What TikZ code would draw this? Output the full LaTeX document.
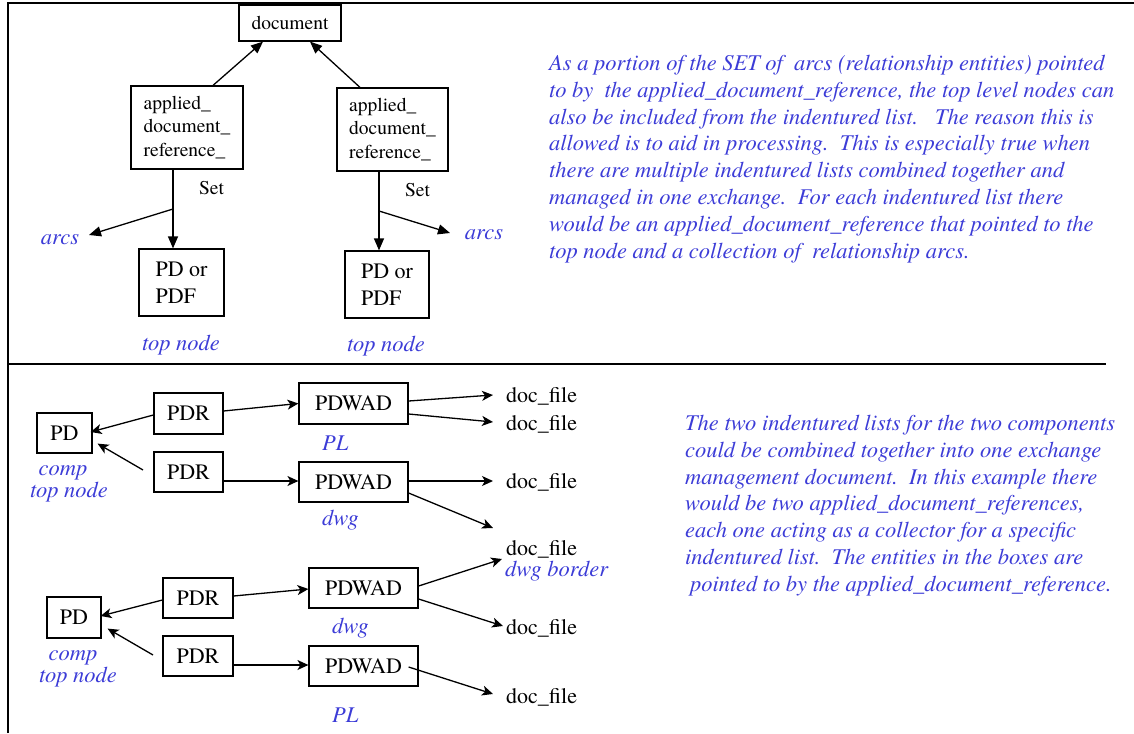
\documentclass[tikz,border=0pt]{standalone}
\usepackage{fontspec}
\setmainfont{TeX Gyre Termes}
\usetikzlibrary{arrows.meta}
\definecolor{noteblue}{RGB}{60,60,215}
\begin{document}
\begin{tikzpicture}[x=1pt,y=-1pt,
  box/.style={draw, line width=1.2pt, inner sep=0pt, align=left, font=\rmfamily\fontsize{22}{27}\selectfont},
  smallbox/.style={draw, line width=1.2pt, inner sep=0pt, align=left, font=\rmfamily\fontsize{19.5}{23.5}\selectfont},
  lbl/.style={inner sep=0pt, font=\rmfamily\fontsize{22}{27}\selectfont},
  smalllbl/.style={inner sep=0pt, font=\rmfamily\fontsize{19.5}{23.5}\selectfont},
  note/.style={inner sep=0pt, text=noteblue, font=\rmfamily\fontsize{22.5}{26.8}\selectfont\itshape},
  toparrow/.style={line width=1.3pt, -{Triangle[length=12pt,width=10pt]}},
  botarrow/.style={line width=1.3pt, -{Stealth[length=11pt,width=10pt,inset=3pt]}},
  frame/.style={line width=2pt}
]
\useasboundingbox (0,0) rectangle (1134,733);
\draw[frame] (8,733) -- (8,3) -- (1134,3);
\draw[line width=1.6pt] (8,364) -- (1106,364);

\node[smallbox, minimum width=102pt, minimum height=36pt] (doc) at (290,23) {document};
\node[smallbox, minimum width=112pt, minimum height=83pt] (adr1) at (187,127.5) {applied\_\\document\_\\reference\_};
\node[smallbox, minimum width=111pt, minimum height=83pt] (adr2) at (392.5,129.5) {applied\_\\document\_\\reference\_};
\node[box, minimum width=85pt, minimum height=67pt] (pd1) at (181.5,282.5) {PD or\\PDF};
\node[box, minimum width=84pt, minimum height=67pt] (pd2) at (387,284.5) {PD or\\PDF};
\node[smalllbl] (set1) at (211.5,188) {Set};
\node[smalllbl] (set2) at (417.5,190) {Set};
\node[note] (arcs1) at (60,240) {arcs};
\node[note] (arcs2) at (484,235) {arcs};
\node[note] (tn1) at (181,345) {top node};
\node[note] (tn2) at (386,346) {top node};

\draw[toparrow] ([xshift=26pt]adr1.north) -- ([xshift=-27pt]doc.south);
\draw[toparrow] ([xshift=-32.5pt]adr2.north) -- ([xshift=20pt]doc.south);
\draw[toparrow] ([xshift=-14pt]adr1.south) -- ([xshift=-8.5pt]pd1.north);
\draw[toparrow] ([xshift=-13.5pt]adr2.south) -- ([xshift=-8pt]pd2.north);
\coordinate (s1) at (173,209);
\coordinate (a1) at (89,235);
\coordinate (s2) at (379,211);
\coordinate (a2) at (450,233);
\draw[toparrow] (s1) -- (a1);
\draw[toparrow] (s2) -- (a2);

\node[note, anchor=north west, align=left] (p1) at (549,55) {As a portion of the SET of\ \ arcs (relationship entities) pointed\\
to by\ \ the applied\_document\_reference, the top level nodes can\\
also be included from the indentured list.\ \ \ The reason this is\\
allowed is to aid in processing.\ \ This is especially true when\\
there are multiple indentured lists combined together and\\
managed in one exchange.\ \ For each indentured list there\\
would be an applied\_document\_reference that pointed to the\\
top node and a collection of\ \ relationship arcs.};

\node[box, minimum width=55pt, minimum height=40pt] (PD1) at (64.5,433) {PD};
\node[box, minimum width=69pt, minimum height=41pt] (PDR1a) at (188.5,413.5) {PDR};
\node[box, minimum width=69pt, minimum height=40pt] (PDR1b) at (188.5,472) {PDR};
\node[box, minimum width=109pt, minimum height=41pt] (W1a) at (353.5,403.5) {PDWAD};
\node[box, minimum width=109pt, minimum height=40pt] (W1b) at (353.5,482) {PDWAD};

\node[box, minimum width=54pt, minimum height=41pt] (PD2) at (74,617.5) {PD};
\node[box, minimum width=70pt, minimum height=40pt] (PDR2a) at (198,598) {PDR};
\node[box, minimum width=70pt, minimum height=40pt] (PDR2b) at (198,656) {PDR};
\node[box, minimum width=109pt, minimum height=40pt] (W2a) at (363.5,588) {PDWAD};
\node[box, minimum width=109pt, minimum height=40pt] (W2b) at (363.5,666) {PDWAD};

\node[lbl, anchor=west] (df1) at (506,396) {doc\_file};
\node[lbl, anchor=west] (df2) at (506,424) {doc\_file};
\node[lbl, anchor=west] (df3) at (506,482) {doc\_file};
\node[lbl, anchor=west] (df4) at (506,549) {doc\_file};
\node[lbl, anchor=west] (df5) at (506,628) {doc\_file};
\node[lbl, anchor=west] (df6) at (506,697) {doc\_file};
\node[note, anchor=west] (bord) at (505,571) {dwg border};

\node[note, anchor=west] (PL1) at (322,443) {PL};
\node[note, anchor=west] (dwg1) at (322,520) {dwg};
\node[note, anchor=west] (dwg2) at (332,628) {dwg};
\node[note, anchor=west] (PL2) at (332,715) {PL};
\node[note] (comp1) at (63,473) {comp};
\node[note] (tnode1) at (69,492) {top node};
\node[note] (comp2) at (73,658) {comp};
\node[note] (tnode2) at (78,677) {top node};

\coordinate (c1) at (143,470);
\coordinate (c2) at (153,655);
\coordinate (e1) at (493,528);
\draw[botarrow] ([yshift=-1.5pt]PDR1a.west) -- ([xshift=-2pt,yshift=1pt]PD1.east);
\draw[botarrow] (c1) -- ([shift={(5pt,10pt)}]PD1.south east);
\draw[botarrow] ([yshift=2.5pt]PDR1a.east) -- (W1a.west);
\draw[botarrow] ([yshift=-9pt]PDR1b.east) -- ([yshift=1pt]W1b.west);
\draw[botarrow] ([yshift=2.5pt]W1a.east) -- ([xshift=-13pt,yshift=1pt]df1.west);
\draw[botarrow] ([yshift=-10.5pt]W1a.east) -- ([xshift=-13pt,yshift=2pt]df2.west);
\draw[botarrow] ([yshift=1pt]W1b.east) -- ([xshift=-13pt,yshift=1pt]df3.west);
\draw[botarrow] ([yshift=-11pt]W1b.east) -- (e1);

\draw[botarrow] ([yshift=-2pt]PDR2a.west) -- ([xshift=-1pt,yshift=1.5pt]PD2.east);
\draw[botarrow] (c2) -- ([shift={(6pt,10pt)}]PD2.south east);
\draw[botarrow] ([yshift=2pt]PDR2a.east) -- ([yshift=-1pt]W2a.west);
\draw[botarrow] ([yshift=-9pt]PDR2b.east) -- ([yshift=1pt]W2b.west);
\draw[botarrow] ([yshift=2pt]W2a.east) -- ([xshift=-4pt,yshift=-10pt]df4.west);
\draw[botarrow] ([yshift=-11pt]W2a.east) -- ([xshift=-3pt,yshift=2pt]df5.west);
\draw[botarrow] ([xshift=-10pt,yshift=-1pt]W2b.east) -- ([xshift=-13pt,yshift=3pt]df6.west);

\node[note, anchor=north west, align=left] (p2) at (685,415) {The two indentured lists for the two components\\
could be combined together into one exchange\\
management document.\ \ In this example there\\
would be two applied\_document\_references,\\
each one acting as a collector for a specific\\
indentured list.\ \ The entities in the boxes are\\
\hspace*{5pt}pointed to by the applied\_document\_reference.};
\end{tikzpicture}
\end{document}
